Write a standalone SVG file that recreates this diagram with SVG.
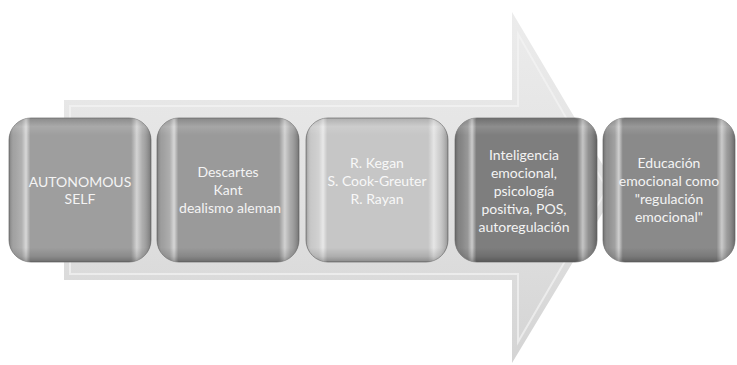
<svg xmlns="http://www.w3.org/2000/svg" width="737" height="365" viewBox="0 0 737 365">
<defs>
<linearGradient id="arrowFill" x1="0" y1="0" x2="0" y2="1">
<stop offset="0" stop-color="#ececec"/>
<stop offset="0.5" stop-color="#e2e2e2"/>
<stop offset="1" stop-color="#d4d4d4"/>
</linearGradient>
<linearGradient id="bevelH" x1="0" y1="0" x2="1" y2="0">
<stop offset="0" stop-color="#000" stop-opacity="0.22"/>
<stop offset="0.04" stop-color="#fff" stop-opacity="0.05"/>
<stop offset="0.09" stop-color="#fff" stop-opacity="0.2"/>
<stop offset="0.12" stop-color="#fff" stop-opacity="0.6"/>
<stop offset="0.15" stop-color="#fff" stop-opacity="0"/>
<stop offset="0.86" stop-color="#fff" stop-opacity="0"/>
<stop offset="0.9" stop-color="#fff" stop-opacity="0.55"/>
<stop offset="0.94" stop-color="#fff" stop-opacity="0.15"/>
<stop offset="1" stop-color="#000" stop-opacity="0.25"/>
</linearGradient>
<linearGradient id="bevelV" x1="0" y1="0" x2="0" y2="1">
<stop offset="0" stop-color="#000" stop-opacity="0.12"/>
<stop offset="0.06" stop-color="#fff" stop-opacity="0.12"/>
<stop offset="0.12" stop-color="#fff" stop-opacity="0"/>
<stop offset="0.9" stop-color="#000" stop-opacity="0"/>
<stop offset="0.96" stop-color="#000" stop-opacity="0.12"/>
<stop offset="1" stop-color="#000" stop-opacity="0.3"/>
</linearGradient>
</defs>
<style>
.box{stroke:#7a7a7a;stroke-width:0.8}
.bh{fill:url(#bevelH)}
.bv{fill:url(#bevelV)}
.t{font-family:Lato,"Liberation Sans",sans-serif;font-size:14px;fill:#f4f4f4;text-anchor:middle}
.t3{fill:#f8f8f8}
</style>
<g id="arrow">
<polygon points="64,100 512,100 512,12 617,189 512,363 512,280 64,280" fill="url(#arrowFill)"/>
<polygon points="70,106 518,106 518,34 607,189 518,342 518,274 70,274" fill="none" stroke="#f4f4f4" stroke-width="2" opacity="0.7"/>
</g>
<g id="connectors"></g>
<g id="node1">
<rect class="box" x="9" y="118" width="142" height="144" rx="22" fill="#9e9e9e"/>
<rect class="bh" x="9" y="118" width="142" height="144" rx="22"/>
<rect class="bv" x="9" y="118" width="142" height="144" rx="22"/>
<text class="t" x="80" y="186.5">AUTONOMOUS</text>
<text class="t" x="80" y="204">SELF</text>
</g>
<g id="node2">
<rect class="box" x="157" y="118" width="142" height="144" rx="22" fill="#9a9a9a"/>
<rect class="bh" x="157" y="118" width="142" height="144" rx="22"/>
<rect class="bv" x="157" y="118" width="142" height="144" rx="22"/>
<text class="t" x="228" y="177">Descartes</text>
<text class="t" x="228" y="195">Kant</text>
<text class="t" x="230" y="213">dealismo aleman</text>
</g>
<g id="node3">
<rect class="box" x="306" y="118" width="142" height="144" rx="22" fill="#c6c6c6"/>
<rect class="bh" x="306" y="118" width="142" height="144" rx="22"/>
<rect class="bv" x="306" y="118" width="142" height="144" rx="22"/>
<text class="t t3" x="377" y="168">R. Kegan</text>
<text class="t t3" x="377" y="186">S. Cook-Greuter</text>
<text class="t t3" x="377" y="204">R. Rayan</text>
</g>
<g id="node4">
<rect class="box" x="455" y="118" width="142" height="144" rx="22" fill="#7e7e7e"/>
<rect class="bh" x="455" y="118" width="142" height="144" rx="22"/>
<rect class="bv" x="455" y="118" width="142" height="144" rx="22"/>
<text class="t" x="524" y="159.5">Inteligencia</text>
<text class="t" x="524" y="177.5">emocional,</text>
<text class="t" x="524" y="195.5">psicología</text>
<text class="t" x="524" y="213.5">positiva, POS,</text>
<text class="t" x="524" y="231.5">autoregulación</text>
</g>
<g id="node5">
<rect class="box" x="603" y="118" width="132" height="144" rx="22" fill="#8a8a8a"/>
<rect class="bh" x="603" y="118" width="132" height="144" rx="22"/>
<rect class="bv" x="603" y="118" width="132" height="144" rx="22"/>
<text class="t" x="669" y="168">Educación</text>
<text class="t" x="669" y="186">emocional como</text>
<text class="t" x="669" y="204">"regulación</text>
<text class="t" x="669" y="222">emocional"</text>
</g>
</svg>
